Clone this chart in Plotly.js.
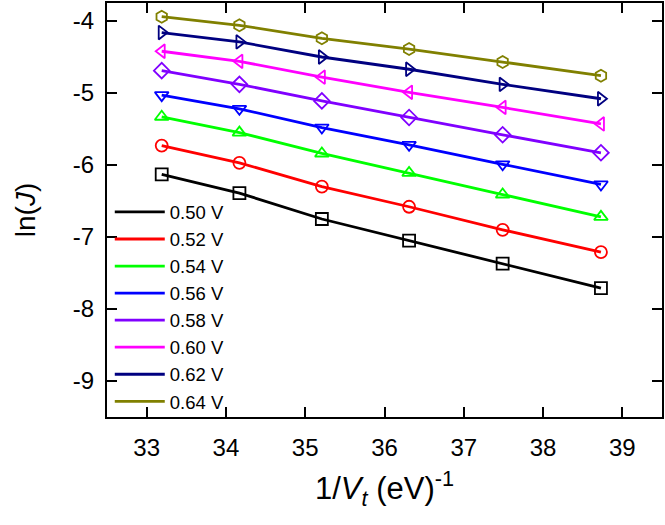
<!DOCTYPE html>
<html>
<head>
<meta charset="utf-8">
<script src="https://cdn.plot.ly/plotly-3.0.1.min.js"></script>
<style>html,body{margin:0;padding:0;background:#fff;}#plot{width:665px;height:525px;}</style>
</head>
<body>
<div id="plot"></div>
<script>
// 1/Vt values (eV^-1)
const invVt = [33.19, 34.17, 35.21, 36.31, 37.49, 38.73];
const labels = ["0.50 V","0.52 V","0.54 V","0.56 V","0.58 V","0.60 V","0.62 V","0.64 V"];
// ln(J) series
const lnJ_050 = [-6.13, -6.39, -6.75, -7.05, -7.37, -7.71];
const lnJ_052 = [-5.73, -5.97, -6.30, -6.58, -6.90, -7.21];
const lnJ_054 = [-5.33, -5.55, -5.84, -6.11, -6.41, -6.72];
const lnJ_056 = [-5.03, -5.22, -5.48, -5.72, -5.99, -6.27];
const lnJ_058 = [-4.69, -4.88, -5.11, -5.34, -5.58, -5.83];
const lnJ_060 = [-4.42, -4.56, -4.78, -4.99, -5.20, -5.43];
const lnJ_062 = [-4.16, -4.29, -4.50, -4.67, -4.88, -5.08];
const lnJ_064 = [-3.94, -4.06, -4.24, -4.39, -4.57, -4.76];
const xTicks = [33, 34, 35, 36, 37, 38, 39];
const yTicks = [-9, -8, -7, -6, -5, -4];

const series = [lnJ_050, lnJ_052, lnJ_054, lnJ_056, lnJ_058, lnJ_060, lnJ_062, lnJ_064];
const colors = ["#000000","#ff0000","#00ff00","#0000ff","#8000ff","#ff00ff","#000080","#808000"];
const symbols = ["square-open","circle-open","triangle-up-open","triangle-down-open","diamond-open","triangle-left-open","triangle-right-open","hexagon-open"];

const traces = [];
series.forEach((ys, i) => {
  traces.push({x: invVt, y: ys, mode: 'lines', name: labels[i],
    line: {color: colors[i], width: 2.8}, showlegend: true});
});
series.forEach((ys, i) => {
  traces.push({x: invVt, y: ys, mode: 'markers', name: labels[i], showlegend: false,
    marker: {symbol: symbols[i], size: 12, color: colors[i], line: {color: colors[i], width: 1.8}}});
});

const fontFam = 'Liberation Sans, Arial, sans-serif';
const layout = {
  width: 665, height: 525,
  margin: {l: 107, r: 3, t: 3, b: 108},
  paper_bgcolor: '#fff', plot_bgcolor: '#fff',
  font: {family: fontFam, color: '#000', size: 20},
  xaxis: {
    range: [32.5, 39.5], tickvals: xTicks, ticktext: xTicks.map(String),
    ticks: 'inside', ticklen: 10, tickwidth: 2, tickcolor: '#000',
    showline: true, linewidth: 2, linecolor: '#000', mirror: 'ticks',
    showgrid: false, zeroline: false, ticklabelstandoff: 8,
    tickfont: {size: 24, family: fontFam},
    title: {text: '1/<i>V</i><sub><i>t</i></sub> (eV)<sup>-1</sup>', font: {size: 31, family: fontFam}, standoff: 18}
  },
  yaxis: {
    range: [-9.5, -3.75], tickvals: yTicks, ticktext: yTicks.map(String),
    ticks: 'inside', ticklen: 10, tickwidth: 2, tickcolor: '#000',
    showline: true, linewidth: 2, linecolor: '#000', mirror: 'ticks',
    showgrid: false, zeroline: false, ticklabelstandoff: 6,
    tickfont: {size: 24, family: fontFam},
    title: {text: 'ln(<i>J</i>)', font: {size: 28, family: fontFam}, standoff: 29}
  },
  legend: {
    x: 0.005, y: 0.54, xanchor: 'left', yanchor: 'top',
    bgcolor: 'rgba(0,0,0,0)', borderwidth: 0, itemwidth: 50,
    font: {size: 18.5, family: fontFam}, traceorder: 'normal', tracegroupgap: 0
  },
  showlegend: true
};

Plotly.newPlot('plot', traces, layout, {displayModeBar: false, staticPlot: true});
</script>
</body>
</html>
